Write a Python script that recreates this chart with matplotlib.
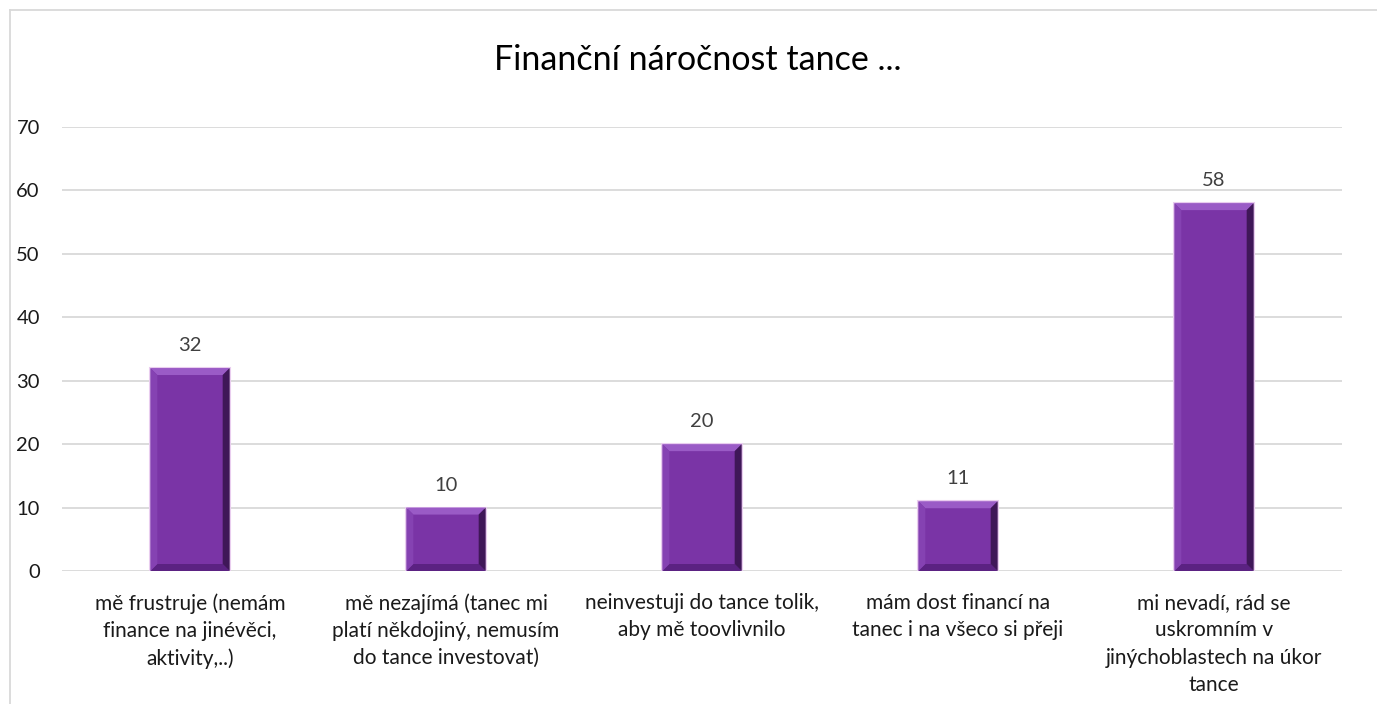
import matplotlib
matplotlib.use('Agg')
import matplotlib.pyplot as plt
from matplotlib.patches import Polygon
from matplotlib.lines import Line2D

plt.rcParams['font.family'] = ['Lato', 'DejaVu Sans']

# data
categories = [
    'mě frustruje (nemám\nfinance na jinévěci,\naktivity,..)',
    'mě nezajímá (tanec mi\nplatí někdojiný, nemusím\ndo tance investovat)',
    'neinvestuji do tance tolik,\naby mě toovlivnilo',
    'mám dost financí na\ntanec i na všeco si přeji',
    'mi nevadí, rád se\nuskromním v\njinýchoblastech na úkor\ntance',
]
values = [32, 10, 20, 11, 58]
title = 'Finanční náročnost tance ...'

fig = plt.figure(figsize=(13.77, 7.04), dpi=100)
ax = fig.add_axes([62 / 1377, 133 / 704, 1280 / 1377, 444 / 704])

x = list(range(len(values)))
w = 0.31
bars = ax.bar(x, values, width=w, color='#7A34A6', edgecolor='#E9CDEF', linewidth=1.5, zorder=3)

# bevel effect (size in px converted to data units)
bx = 7 / 256
by = 7 / (444 / 70)
for rect in bars:
    x0 = rect.get_x()
    x1 = x0 + rect.get_width()
    h = rect.get_height()
    top = [(x0, h), (x1, h), (x1 - bx, h - by), (x0 + bx, h - by)]
    bot = [(x0, 0), (x1, 0), (x1 - bx, by), (x0 + bx, by)]
    left = [(x0, 0), (x0, h), (x0 + bx, h - by), (x0 + bx, by)]
    right = [(x1, 0), (x1, h), (x1 - bx, h - by), (x1 - bx, by)]
    ax.add_patch(Polygon(top, closed=True, color='#9A5BC6', zorder=4, lw=0))
    ax.add_patch(Polygon(bot, closed=True, color='#5B2282', zorder=4, lw=0))
    ax.add_patch(Polygon(left, closed=True, color='#8542B2', zorder=4, lw=0))
    ax.add_patch(Polygon(right, closed=True, color='#3F1758', zorder=4, lw=0))
    ax.text(rect.get_x() + w / 2, h + 2.2, str(h), ha='center', va='bottom',
            fontsize=14.5, color='#404040', zorder=5)

ax.set_xlim(-0.5, len(values) - 0.5)
ax.set_ylim(0, 70)
ax.set_yticks(range(0, 71, 10))
ax.set_xticks(x)
ax.set_xticklabels(categories, fontsize=15, color='#1a1a1a', linespacing=1.45)
ax.tick_params(axis='y', labelsize=14.5, labelcolor='#1a1a1a', length=0, pad=16)
ax.tick_params(axis='x', length=0, pad=16)
ax.grid(axis='y', color='#D9D9D9', linewidth=1.3, zorder=0)
for s in ax.spines.values():
    s.set_visible(False)

fig.text(698 / 1377, 1 - 60 / 704, title, ha='center', va='center', fontsize=24.5, color='#000000')

# outer chart border (left and top visible)
fig.add_artist(Line2D([10 / 1377, 10 / 1377], [0, 1 - 10 / 704], color='#D9D9D9', lw=1.3))
fig.add_artist(Line2D([10 / 1377, 1], [1 - 10 / 704, 1 - 10 / 704], color='#D9D9D9', lw=1.3))

fig.savefig('out.png', dpi=100)
